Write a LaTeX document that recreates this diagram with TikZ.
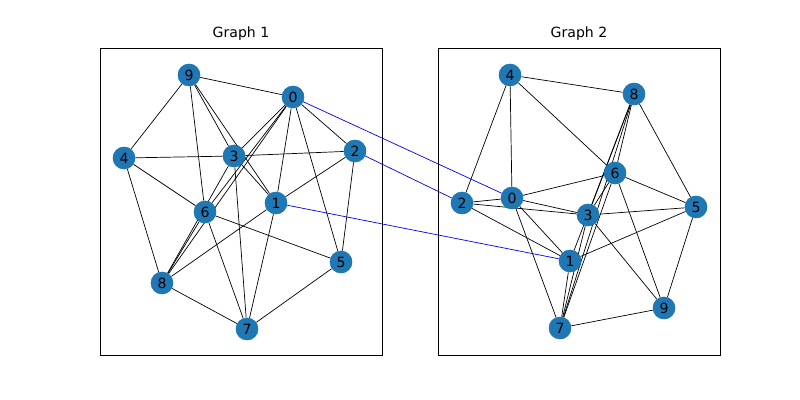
\documentclass[tikz,border=0pt]{standalone}
\usepackage{fontspec}
\setmainfont{DejaVu Sans}
\usepackage{tikz}
\definecolor{nodeblue}{HTML}{1F77B4}
\tikzstyle{vertex} = [circle, fill=nodeblue, minimum size=0.56cm, inner sep=0pt, font=\fontsize{10}{12}\selectfont]
\tikzstyle{edge} = [black, line width=0.5pt]
\tikzstyle{match} = [blue, line width=0.5pt]
\tikzstyle{frame} = [draw=black, line width=0.5pt]

\begin{document}
\begin{tikzpicture}[x=0.025cm, y=-0.025cm]
            \useasboundingbox (0,0) rectangle (800,400);
            \draw [frame] (100,48) rectangle (382,355);
            \draw [frame] (438,48) rectangle (720,355);
            \node at (241,34) {\fontsize{10}{12}\selectfont Graph 1};
            \node at (579,34) {\fontsize{10}{12}\selectfont Graph 2};
            % graph 1
            \node (a9) [vertex] at (189,75) {9};
            \node (a0) [vertex] at (293,97) {0};
            \node (a4) [vertex] at (124,158) {4};
            \node (a3) [vertex] at (234,156) {3};
            \node (a2) [vertex] at (355,151) {2};
            \node (a1) [vertex] at (276,203) {1};
            \node (a6) [vertex] at (205,212) {6};
            \node (a5) [vertex] at (341,262) {5};
            \node (a8) [vertex] at (162,283) {8};
            \node (a7) [vertex] at (247,329) {7};
            % graph 2
            \node (b4) [vertex] at (510,75) {4};
            \node (b8) [vertex] at (634,94) {8};
            \node (b6) [vertex] at (615,173) {6};
            \node (b0) [vertex] at (512,198) {0};
            \node (b2) [vertex] at (462,203) {2};
            \node (b3) [vertex] at (588,215) {3};
            \node (b5) [vertex] at (696,207) {5};
            \node (b1) [vertex] at (570,261) {1};
            \node (b9) [vertex] at (664,308) {9};
            \node (b7) [vertex] at (560,328) {7};
            \begin{scope}[on background layer/.style={}]
            \foreach \u/\v in {9/0,9/4,9/6,9/3,9/1,0/3,0/6,0/8,0/1,0/2,0/5,4/3,4/6,4/8,3/2,3/1,3/8,3/7,2/1,2/5,1/8,1/7,6/5,6/7,6/8,8/7,7/5}
                \draw [edge] (a\u) -- (a\v);
            \foreach \u/\v in {4/8,4/2,4/0,4/6,8/6,8/3,8/1,8/7,8/5,2/0,2/3,2/1,0/6,0/3,0/1,0/7,6/5,6/9,6/7,3/5,3/7,3/9,1/5,1/7,5/9,9/7,6/3}
                \draw [edge] (b\u) -- (b\v);
            \draw [match] (a0.center) -- (b0);
            \draw [match] (a2.center) -- (b2);
            \draw [match] (a1.center) -- (b1);
            \end{scope}
            % redraw vertices on top
            \foreach \n/\x/\y in {9/189/75,0/293/97,4/124/158,3/234/156,2/355/151,1/276/203,6/205/212,5/341/262,8/162/283,7/247/329,4/510/75,8/634/94,6/615/173,0/512/198,2/462/203,3/588/215,5/696/207,1/570/261,9/664/308,7/560/328}
                \node [vertex] at (\x,\y) {\n};
\end{tikzpicture}
\end{document}
